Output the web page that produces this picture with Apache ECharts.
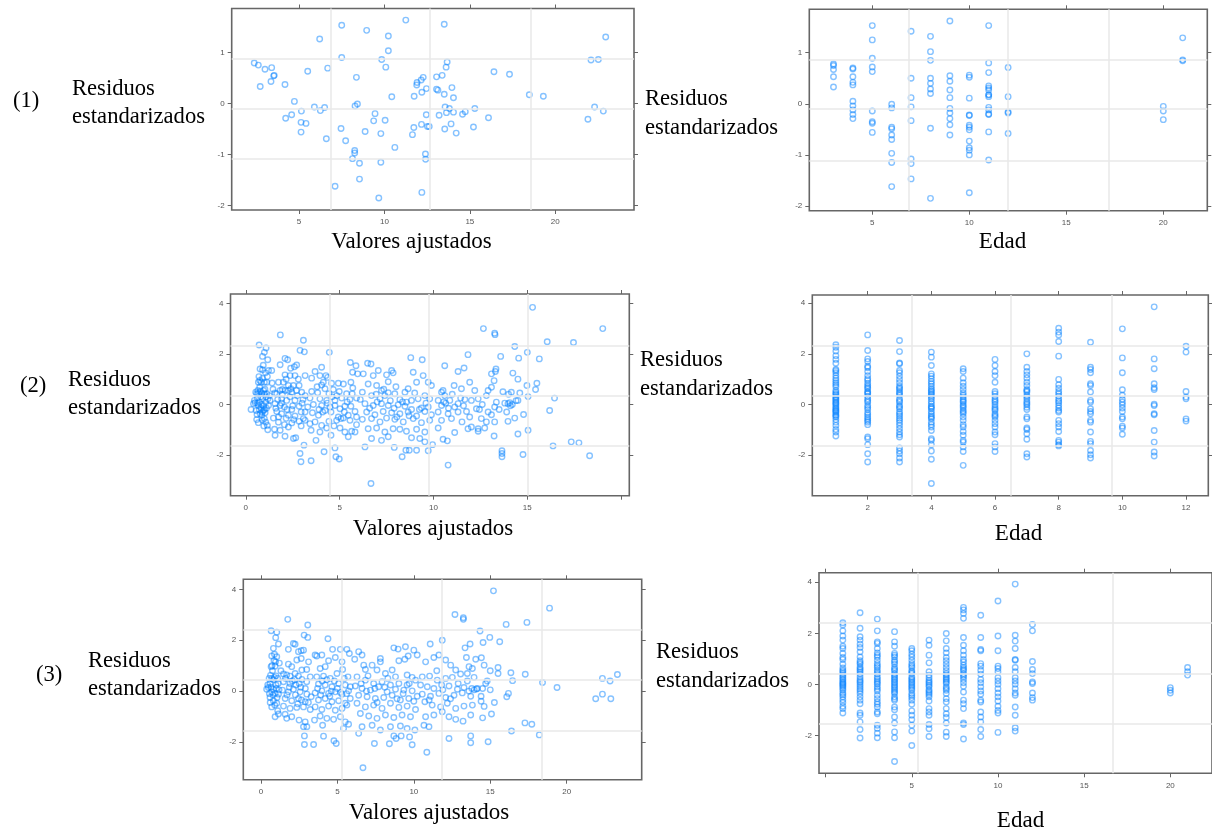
<!DOCTYPE html>
<html>
<head>
<meta charset="utf-8">
<title>Residuos estandarizados</title>
<script src="https://cdn.jsdelivr.net/npm/echarts@6/dist/echarts.min.js"></script>
<style>
  html, body { margin: 0; padding: 0; background: #fff; }
  #chart { width: 1212px; height: 833px; }
</style>
</head>
<body>
<div id="chart"></div>
<script>
// ---- Modelo (1): residuos frente a valores ajustados [ajustado, residuo] ----
const ajustados1 = [
  [2.38,0.79],[2.62,0.75],[3.01,0.67],[3.40,0.70],[3.52,0.54],[3.55,0.55],[2.73,0.33],[3.36,0.43],[4.18,0.37],[4.73,0.04],
  [4.22,-0.29],[4.57,-0.22],[5.14,-0.15],[5.12,-0.37],[5.41,-0.39],[5.12,-0.56],[5.51,0.63],[6.21,1.26],[5.90,-0.07],[6.25,-0.14],
  [6.50,-0.08],[6.68,0.69],[6.60,-0.69],[7.50,1.53],[7.50,0.90],[7.46,-0.49],[7.73,-0.73],[7.11,-1.62],[8.36,0.51],[8.28,-0.05],
  [8.42,-0.01],[8.26,-0.92],[8.26,-0.97],[8.13,-1.08],[8.54,-1.17],[8.54,-1.48],[8.96,1.43],[8.87,-0.55],[9.45,-0.20],[9.37,-0.34],
  [9.84,0.86],[10.08,0.71],[10.04,-0.33],[9.79,-0.59],[9.79,-1.15],[9.67,-1.85],[10.23,1.32],[10.23,1.03],[10.43,0.13],[10.61,-0.86],
  [11.25,1.63],[11.74,0.14],[11.72,-0.47],[11.64,-0.61],[11.89,0.36],[11.91,0.41],[12.15,0.46],[12.27,0.51],[12.19,0.22],[12.46,0.29],
  [12.17,-0.41],[12.45,-0.22],[12.52,-0.45],[12.62,-0.45],[12.40,-0.99],[12.41,-1.09],[12.19,-1.74],[13.05,0.52],[13.38,0.55],[13.05,0.28],
  [13.13,0.26],[13.50,0.18],[13.20,-0.23],[13.50,1.55],[13.67,0.81],[13.61,0.71],[13.95,0.31],[14.04,0.11],[13.55,-0.07],[13.80,-0.10],
  [13.63,-0.18],[14.04,-0.17],[13.53,-0.50],[13.90,-0.40],[14.20,-0.58],[14.57,-0.21],[14.73,-0.16],[15.29,-0.10],[15.21,-0.46],[16.09,-0.28],
  [16.41,0.62],[17.32,0.57],[18.48,0.17],[19.30,0.14],[21.91,-0.31],[22.30,-0.07],[22.81,-0.15],[22.09,0.85],[22.52,0.86],[22.95,1.30]
];

// ---- Modelo (1): residuos por edad [edad, [residuos]] ----
const edad1 = [
  [3,  [0.78,0.75,0.67,0.53,0.33]],
  [4,  [0.70,0.68,0.53,0.42,0.37,0.05,-0.04,-0.12,-0.21,-0.29]],
  [5,  [1.53,1.25,0.89,0.72,0.63,-0.14,-0.35,-0.38,-0.56]],
  [6,  [-0.01,-0.08,-0.46,-0.49,-0.61,-0.70,-0.97,-1.15,-1.62]],
  [7,  [1.42,0.50,0.12,-0.06,-0.33,-1.08,-1.17,-1.47]],
  [8,  [1.32,1.02,0.85,0.50,0.40,0.29,0.20,-0.48,-1.85]],
  [9,  [1.62,0.55,0.44,0.27,0.12,-0.09,-0.18,-0.29,-0.41,-0.61]],
  [10, [0.56,0.52,0.11,-0.22,-0.23,-0.42,-0.46,-0.51,-0.73,-0.86,-0.91,-1.00,-1.74]],
  [11, [1.53,0.80,0.61,0.35,0.31,0.27,0.18,0.17,0.14,-0.07,-0.12,-0.20,-0.21,-0.55,-1.10]],
  [12, [0.71,0.14,-0.16,-0.18,-0.58]],
  [20, [-0.05,-0.14,-0.31]],
  [21, [1.29,0.86,0.84]]
];

// ---- Modelo (2): residuos frente a valores ajustados ----
const ajustados2 = [
  [0.28,-0.20],[0.41,0.03],[0.50,0.07],[0.59,0.42],[0.67,0.42],[0.85,0.43],[0.99,0.42],[1.12,0.42],[0.71,2.35],[1.08,2.23],
  [0.99,2.06],[0.89,1.90],[1.17,1.77],[0.76,1.40],[0.89,1.37],[1.21,1.34],[0.67,0.88],[0.82,0.88],[0.99,0.88],[1.12,0.88],
  [0.89,1.03],[0.74,0.68],[0.67,-0.04],[0.82,-0.14],[0.94,-0.24],[0.76,-0.37],[0.85,-0.43],[1.03,-0.33],[0.67,-0.72],[1.06,-0.70],
  [1.15,-0.83],[1.17,-1.00],[0.99,-0.56],[0.55,-0.24],[0.46,0.16],[1.26,0.35],[1.29,0.16],[1.21,-0.04],[1.06,0.09],[0.90,0.22],
  [0.62,0.25],[0.53,0.48],[0.72,0.10],[0.80,0.30],[0.95,-0.05],[1.02,0.60],[0.60,-0.40],[0.88,-0.62],[1.10,-0.15],[0.70,1.10],
  [0.93,1.55],[1.15,1.10],[0.64,0.55],[0.78,0.52],[0.95,0.55],[1.08,0.30],[0.72,-0.20],[0.88,-0.30],[1.00,-0.20],[0.62,0.05],
  [0.84,0.00],[1.18,0.22],[0.58,-0.60],[0.96,-0.85],[0.75,0.95],[1.05,1.25],
  [1.84,2.75],[2.09,1.82],[2.23,1.77],[2.39,1.43],[2.59,1.49],[2.71,1.56],[2.89,2.14],[3.12,2.08],[3.07,2.54],[1.38,1.34],
  [1.83,1.57],[2.09,1.17],[2.36,1.14],[2.62,1.14],[1.74,0.88],[2.00,0.88],[2.27,0.75],[2.54,0.75],[2.84,0.75],[3.16,1.14],
  [1.83,0.55],[1.95,0.59],[2.09,0.55],[2.27,0.55],[2.45,0.48],[1.65,0.42],[1.91,0.22],[2.18,0.16],[2.62,0.16],[2.98,0.48],
  [3.16,0.35],[1.56,0.03],[1.83,-0.04],[2.06,-0.10],[2.45,-0.20],[2.84,-0.07],[3.16,-0.30],[1.65,-0.28],[1.91,-0.37],[2.27,-0.43],
  [2.62,-0.46],[3.07,-0.56],[1.74,-0.70],[2.06,-0.80],[2.45,-0.73],[2.84,-0.67],[3.16,-0.63],[1.53,-0.98],[1.83,-1.02],[2.09,-1.26],
  [2.54,-1.35],[2.66,-1.32],[3.10,-1.61],[2.89,-1.94],[2.94,-2.27],[2.27,-0.89],[1.47,-0.54],[1.56,-1.22],[1.45,0.60],[1.70,0.20],
  [2.35,0.30],[2.75,0.35],[3.00,0.05],[2.20,-0.20],[1.60,-0.15],[2.50,-0.05],[2.95,-0.30],[2.15,1.00],[2.80,1.00],[1.40,0.85],
  [1.55,0.45],[1.95,0.40],[2.40,0.62],[2.70,0.55],[3.05,0.20],[1.75,-0.50],[2.15,-0.55],[2.55,-0.60],[2.95,-0.85],[1.90,0.05],
  [4.45,2.06],[4.04,1.47],[3.69,1.30],[3.95,1.14],[4.27,1.14],[4.36,1.07],[3.51,1.04],[4.13,0.88],[4.04,0.77],[4.57,0.84],
  [4.93,0.84],[4.66,0.59],[4.98,0.51],[5.20,0.81],[5.57,1.66],[5.87,1.53],[5.69,1.27],[5.96,1.21],[5.60,0.88],[3.51,0.51],
  [3.83,0.46],[4.22,0.62],[4.43,0.42],[3.42,0.25],[3.95,0.22],[4.31,0.16],[4.75,0.16],[5.11,0.25],[5.37,0.42],[5.67,0.42],
  [5.90,0.25],[3.60,0.00],[4.04,-0.04],[4.49,-0.10],[4.75,-0.04],[5.02,-0.17],[5.28,-0.07],[5.60,-0.07],[5.82,-0.28],[3.55,-0.33],
  [3.87,-0.43],[4.22,-0.24],[4.54,-0.30],[4.93,-0.50],[5.20,-0.54],[5.46,-0.43],[5.90,-0.50],[3.69,-0.69],[3.42,-0.76],[4.04,-0.83],
  [4.43,-0.67],[4.84,-0.63],[5.07,-0.56],[5.55,-0.63],[3.48,-1.02],[3.95,-1.09],[4.31,-0.93],[5.02,-0.93],[5.28,-1.09],[5.64,-1.06],
  [5.90,-0.80],[3.74,-1.42],[4.17,-1.87],[4.75,-1.72],[4.80,-2.07],[4.98,-2.16],[3.48,-2.23],[4.54,-1.22],[5.46,-1.28],[5.82,-1.09],
  [3.80,0.70],[4.60,0.30],[5.40,0.10],[4.10,-0.30],[5.70,0.65],[3.30,-0.10],[4.35,0.05],[4.85,0.35],[5.25,-0.30],[3.90,-0.20],
  [4.70,-0.85],[5.55,0.20],
  [6.49,1.63],[6.67,1.60],[6.26,1.21],[6.79,1.14],[7.06,1.34],[7.59,0.90],[7.77,1.34],[7.85,1.25],[7.50,1.17],[8.79,1.85],
  [8.92,1.27],[9.40,1.77],[9.45,1.14],[9.10,0.88],[8.65,0.62],[8.48,0.48],[9.72,0.88],[9.89,0.75],[6.52,0.81],[6.97,0.75],
  [7.23,0.55],[7.59,0.46],[6.21,0.48],[6.70,0.35],[7.15,0.22],[7.41,0.35],[7.94,0.42],[8.21,0.20],[8.56,0.09],[8.83,0.16],
  [9.18,0.22],[9.54,0.35],[9.80,0.22],[6.35,0.03],[6.79,-0.04],[7.23,0.03],[7.59,-0.04],[8.12,-0.01],[8.48,-0.07],[8.83,-0.20],
  [9.36,-0.14],[9.72,-0.10],[6.44,-0.30],[6.88,-0.41],[7.32,-0.28],[7.77,-0.33],[8.21,-0.37],[8.65,-0.30],[9.10,-0.46],[9.54,-0.28],
  [9.89,-0.41],[6.21,-0.59],[6.70,-0.56],[7.15,-0.69],[7.50,-0.54],[7.94,-0.59],[8.39,-0.69],[8.92,-0.56],[9.36,-0.72],[9.80,-0.63],
  [6.52,-0.96],[6.97,-0.93],[7.41,-1.09],[7.85,-0.96],[8.21,-0.98],[8.56,-1.06],[9.10,-0.98],[9.54,-1.09],[6.35,-1.68],[6.67,-3.13],
  [7.91,-1.70],[8.33,-2.07],[8.53,-1.81],[8.71,-1.81],[9.10,-1.81],[9.72,-1.83],[9.54,-1.48],[9.95,-1.59],[6.70,-1.35],[7.23,-1.42],
  [7.59,-1.28],[8.83,-1.32],[9.27,-1.35],[6.10,0.20],[7.00,0.10],[8.00,0.70],[9.00,0.45],[6.60,-0.15],[7.70,0.15],[8.70,-0.45],
  [9.60,0.05],[7.35,0.60],[8.35,0.10],[9.25,-0.20],[7.90,-0.15],[6.95,0.40],[8.05,-0.50],
  [10.60,1.53],[11.31,1.30],[11.63,1.44],[11.84,1.97],[11.10,0.75],[11.49,0.62],[11.93,0.88],[10.43,0.48],[10.51,0.55],[10.60,0.35],
  [10.25,0.16],[10.87,0.16],[11.31,0.03],[11.67,0.20],[12.02,0.16],[12.38,0.22],[12.82,0.35],[13.09,0.68],[13.23,0.94],[13.30,1.30],
  [13.09,1.21],[12.91,0.55],[13.35,0.09],[10.43,-0.04],[11.13,-0.10],[11.76,-0.28],[12.29,-0.17],[12.91,-0.30],[13.26,-0.10],[10.25,-0.30],
  [10.78,-0.37],[11.31,-0.30],[11.93,-0.50],[12.55,-0.56],[13.09,-0.41],[10.43,-0.63],[10.96,-0.56],[11.52,-0.69],[12.02,-0.89],[12.38,-0.96],
  [12.82,-0.69],[13.26,-0.69],[10.51,-1.38],[10.74,-1.44],[11.13,-1.11],[10.78,-2.40],[13.23,-1.25],[12.38,-1.06],[11.84,-0.96],[12.73,-0.93],
  [10.25,-0.93],[11.00,0.40],[12.20,0.55],[10.80,-0.15],[12.60,0.00],[11.60,-0.05],[10.55,0.10],[10.65,0.05],[11.45,0.25],[12.45,-0.20],
  [12.66,3.00],[13.26,2.82],[13.28,2.76],[13.58,1.90],[14.33,2.29],[14.54,1.83],[13.33,1.40],[14.23,1.24],[14.50,1.00],[15.00,2.06],
  [14.98,0.75],[15.04,0.31],[13.65,-1.83],[13.65,-1.94],[13.65,-2.07],[14.50,-1.17],[14.77,-1.98],[15.04,-1.02],[13.97,-0.67],[14.33,-0.54],
  [15.28,3.84],[15.64,1.80],[15.44,0.59],[15.51,0.84],[16.06,2.48],[16.45,0.25],[16.19,-0.24],[16.37,-1.64],[17.46,2.45],[17.34,-1.48],
  [17.75,-1.52],[18.32,-2.03],[19.02,3.00],[13.80,0.05],[14.00,0.40],[14.10,-0.05],[14.40,0.15],[13.70,0.50],[14.60,0.45],[13.90,-0.30],
  [14.20,0.00],[14.80,-0.40],[13.50,-0.20],[13.97,0.03],[14.06,0.07],[14.50,0.16],[14.15,0.48]
];

// ---- Modelo (2): residuos por edad ----
const edad2 = [
  [1,  [2.36,2.26,2.11,1.93,1.78,1.63,1.38,1.33,1.25,1.14,1.04,0.95,0.86,0.78,0.70,0.55,0.48,0.42,0.37,0.30,0.26,0.20,0.16,0.09,0.05,0.00,-0.07,-0.14,-0.19,-0.24,-0.28,-0.33,-0.41,-0.45,-0.50,-0.60,-0.70,-0.83,-0.99,-1.09,-1.25]],
  [2,  [2.75,2.13,1.80,1.70,1.51,1.45,1.30,1.14,1.02,0.95,0.84,0.75,0.68,0.62,0.51,0.46,0.42,0.32,0.22,0.15,0.09,-0.04,-0.12,-0.20,-0.33,-0.41,-0.50,-0.57,-0.64,-0.70,-0.80,-1.29,-1.36,-1.59,-1.95,-2.28]],
  [3,  [2.53,2.09,1.64,1.61,1.34,1.25,1.12,0.99,0.86,0.72,0.65,0.59,0.49,0.43,0.36,0.22,0.15,0.09,-0.04,-0.10,-0.17,-0.30,-0.38,-0.46,-0.55,-0.63,-0.72,-0.83,-0.96,-1.09,-1.20,-1.29,-1.72,-1.84,-1.95,-2.12,-2.28]],
  [4,  [2.07,1.87,1.54,1.21,1.12,1.02,0.91,0.82,0.72,0.62,0.55,0.49,0.42,0.36,0.29,0.22,0.12,0.03,-0.07,-0.12,-0.17,-0.28,-0.37,-0.46,-0.52,-0.57,-0.70,-0.80,-0.89,-1.03,-1.36,-1.42,-1.59,-1.84,-2.17,-3.13]],
  [5,  [1.41,1.30,1.04,0.86,0.72,0.59,0.45,0.36,0.29,0.20,0.14,0.09,-0.01,-0.07,-0.14,-0.24,-0.30,-0.37,-0.50,-0.63,-0.80,-0.89,-1.07,-1.22,-1.42,-1.49,-1.68,-1.86,-2.41]],
  [6,  [1.78,1.54,1.30,1.14,0.88,0.51,0.42,0.32,0.22,0.15,0.09,-0.01,-0.11,-0.18,-0.24,-0.37,-0.44,-0.50,-0.63,-0.76,-0.89,-1.09,-1.20,-1.55,-1.68,-1.86]],
  [7,  [2.00,1.47,1.30,1.17,1.04,0.88,0.75,0.59,0.54,0.49,0.36,0.30,0.22,0.12,0.05,-0.01,-0.11,-0.20,-0.50,-0.57,-0.93,-0.99,-1.16,-1.38,-1.95,-2.08]],
  [8,  [3.01,2.86,2.75,2.49,1.91,0.99,0.78,0.64,0.51,0.42,0.33,0.22,0.14,0.07,-0.04,-0.14,-0.24,-0.30,-0.63,-0.76,-0.89,-1.07,-1.42,-1.49,-1.59,-1.64]],
  [9,  [2.46,1.47,1.38,1.25,0.82,0.75,0.49,0.16,0.09,-0.17,-0.28,-0.37,-0.63,-0.70,-1.09,-1.46,-1.55,-1.82,-1.99,-2.12]],
  [10, [2.99,1.84,1.25,0.58,0.36,0.20,0.09,-0.01,-0.14,-0.28,-0.50,-0.57,-0.86,-0.93,-1.18]],
  [11, [3.86,1.80,1.41,0.82,0.66,0.59,0.01,-0.04,-0.37,-0.41,-1.03,-1.49,-1.88,-2.04]],
  [12, [2.30,2.07,0.51,0.29,0.22,-0.57,-0.66]]
];

// ---- Modelo (3): residuos frente a valores ajustados ----
const ajustados3 = [
  [0.66,2.37],[1.03,2.31],[0.96,2.10],[1.14,1.85],[0.81,1.68],[0.88,1.45],[0.70,1.38],[1.03,1.35],[0.66,0.96],[0.92,0.98],
  [0.88,0.54],[0.70,0.50],[1.09,0.50],[0.53,0.50],[0.37,0.07],[0.48,0.14],[0.70,-0.03],[0.92,-0.09],[1.14,-0.12],[0.59,-0.25],
  [0.81,-0.38],[1.03,-0.48],[0.70,-0.62],[1.09,-0.77],[1.14,-0.90],[0.92,-1.01],[0.81,0.07],[0.59,0.30],[0.44,0.24],[0.98,0.24],
  [0.75,0.80],[1.20,1.10],[0.55,-0.10],[1.00,0.10],[0.85,1.20],[0.62,0.62],[0.80,0.45],[0.98,0.60],[1.12,0.30],[0.65,0.15],
  [0.78,-0.15],[1.05,-0.25],[0.90,-0.55],[0.60,-0.45],[1.18,0.05],[0.72,1.00],[0.95,1.15],
  [1.75,2.82],[3.06,2.60],[2.82,2.20],[3.06,2.11],[2.12,1.87],[2.23,1.84],[1.79,1.64],[2.45,1.55],[2.63,1.59],[2.78,1.61],
  [2.34,1.22],[2.63,1.28],[3.11,1.15],[1.79,1.06],[2.01,0.96],[2.67,0.83],[2.99,0.85],[1.47,0.67],[1.68,0.63],[1.90,0.59],
  [2.23,0.69],[2.45,0.59],[1.47,0.37],[1.90,0.30],[2.28,0.24],[2.67,0.46],[2.99,0.37],[3.22,0.56],[1.40,0.04],[1.79,-0.03],
  [2.12,0.07],[2.56,-0.03],[3.00,-0.12],[1.58,-0.29],[2.01,-0.38],[2.45,-0.29],[2.89,-0.42],[3.28,-0.22],[1.47,-0.59],[1.90,-0.68],
  [2.34,-0.64],[2.78,-0.62],[3.22,-0.72],[1.58,-0.91],[2.01,-1.01],[2.49,-1.14],[2.89,-1.21],[1.68,-1.07],[2.78,-1.40],[3.00,-1.40],
  [2.84,-1.76],[2.84,-2.10],[3.44,-2.10],[1.30,0.80],[2.20,0.45],[2.60,0.15],[1.85,0.15],[2.40,-0.50],[1.60,0.50],[2.05,0.40],
  [2.50,0.30],[2.90,0.10],[1.70,-0.15],[2.25,-0.15],[2.65,-0.35],[3.10,-0.45],
  [4.38,2.06],[3.65,1.38],[3.54,1.42],[3.98,1.42],[4.42,1.19],[4.20,0.96],[3.87,0.89],[4.68,1.64],[5.19,1.64],[4.86,1.32],
  [5.30,1.15],[5.62,1.64],[5.78,1.48],[3.65,0.56],[4.09,0.59],[4.53,0.50],[4.97,0.69],[5.34,0.85],[5.69,0.56],[3.76,0.28],
  [4.20,0.24],[4.64,0.17],[5.08,0.30],[5.51,0.24],[5.84,0.17],[3.54,-0.07],[3.98,0.01],[4.42,-0.09],[4.86,-0.03],[5.30,-0.12],
  [5.73,0.01],[3.76,-0.35],[4.20,-0.29],[4.64,-0.42],[5.08,-0.38],[5.51,-0.48],[5.84,-0.29],[3.54,-0.62],[3.98,-0.72],[4.42,-0.59],
  [4.86,-0.75],[5.30,-0.68],[5.62,-0.55],[3.87,-0.98],[4.31,-1.07],[4.75,-1.11],[5.19,-1.01],[5.51,-1.21],[4.09,-1.77],[4.77,-1.95],
  [4.92,-2.06],[4.03,-1.34],[3.50,-1.14],[5.40,-1.47],[5.73,-1.30],[4.00,0.40],[5.00,0.10],[4.50,-0.20],[5.60,-0.10],[3.70,0.10],
  [4.30,0.45],[4.80,0.40],[5.20,-0.05],[3.90,-0.15],[4.60,0.00],[5.45,0.50],
  [6.39,1.55],[6.61,1.42],[6.13,1.25],[6.72,1.02],[6.83,0.85],[7.27,1.02],[7.81,1.28],[7.81,1.15],[7.59,0.83],[8.69,1.70],
  [8.97,1.65],[9.45,1.74],[9.63,1.38],[9.41,1.25],[9.02,1.19],[10.00,1.61],[10.22,1.42],[8.58,0.83],[8.14,0.69],[8.80,0.56],
  [9.56,0.63],[9.89,0.54],[6.28,0.56],[6.83,0.43],[7.37,0.30],[7.92,0.37],[8.47,0.24],[9.02,0.30],[9.56,0.24],[10.11,0.43],
  [6.17,0.20],[6.61,0.10],[7.16,0.04],[7.70,0.17],[8.25,-0.03],[8.80,0.07],[9.34,0.04],[9.89,0.01],[6.39,-0.16],[6.94,-0.22],
  [7.48,-0.29],[8.03,-0.25],[8.58,-0.16],[9.12,-0.35],[9.67,-0.29],[10.22,-0.20],[6.28,-0.48],[6.83,-0.62],[7.37,-0.55],[7.92,-0.68],
  [8.47,-0.48],[9.02,-0.64],[9.56,-0.59],[10.11,-0.72],[6.50,-0.88],[7.05,-0.98],[7.59,-1.07],[8.14,-0.94],[8.69,-1.04],[9.23,-0.94],
  [9.78,-1.01],[6.67,-3.01],[7.42,-2.06],[8.40,-2.07],[8.69,-1.76],[8.84,-1.86],[9.17,-1.76],[9.89,-2.11],[9.72,-1.80],[10.07,-1.53],
  [6.39,-1.66],[6.61,-1.40],[7.27,-1.34],[7.81,-1.53],[8.47,-1.40],[9.12,-1.37],[9.56,-1.47],[7.00,0.60],[8.30,0.50],[9.30,-0.10],
  [7.60,-0.45],[6.90,0.00],[10.00,-0.40],[7.45,0.10],[8.10,0.15],[8.90,-0.30],[9.70,0.30],[6.55,0.30],
  [11.07,1.85],[11.86,2.00],[11.64,1.42],[10.77,1.15],[11.31,1.32],[12.08,1.22],[12.41,1.02],[12.74,0.83],[13.35,1.70],[13.44,1.32],
  [13.61,0.96],[13.83,0.89],[14.05,1.25],[10.55,0.56],[11.03,0.59],[11.53,0.43],[12.08,0.50],[12.52,0.54],[13.06,0.67],[13.50,0.69],
  [13.94,0.54],[10.44,0.24],[10.88,0.17],[11.31,0.10],[11.82,0.24],[12.30,0.20],[12.85,0.07],[13.28,0.14],[13.79,0.10],[14.16,0.10],
  [10.55,-0.12],[11.09,-0.20],[11.64,-0.09],[12.08,-0.25],[12.63,-0.16],[13.17,-0.07],[13.72,-0.20],[10.72,-0.42],[11.20,-0.55],[11.75,-0.62],
  [12.19,-0.48],[12.74,-0.68],[13.28,-0.59],[13.83,-0.55],[10.77,-1.01],[10.99,-1.40],[11.31,-0.94],[11.86,-0.81],[12.30,-1.01],[12.74,-1.11],
  [13.22,-1.18],[13.72,-0.94],[10.85,-2.40],[12.30,-1.86],[13.72,-1.76],[13.72,-2.03],[10.66,-1.34],[11.50,0.80],[12.90,0.30],[11.00,-0.35],
  [12.40,-0.30],[13.50,0.40],[13.95,0.05],[14.10,0.08],[13.60,0.00],[11.90,0.05],
  [15.21,3.94],[18.88,3.26],[12.69,3.01],[13.24,2.88],[13.24,2.82],[16.04,2.62],[17.40,2.70],[14.33,2.36],[14.97,2.11],[15.62,1.94],
  [14.53,1.91],[13.68,1.85],[14.42,1.31],[14.60,1.02],[15.00,0.80],[15.51,0.93],[15.51,0.69],[16.35,0.72],[16.46,0.41],[16.19,-0.09],
  [16.08,-0.22],[17.29,0.66],[18.42,0.34],[19.37,0.14],[14.80,0.40],[15.00,0.05],[14.86,-1.99],[15.08,-0.90],[15.27,-0.45],[14.40,-0.40],
  [14.60,-0.60],[14.50,-1.05],[16.39,-1.57],[17.27,-1.25],[17.72,-1.30],[18.21,-1.72],[14.50,0.10],[14.70,0.30],[14.40,-0.20],
  [22.34,0.50],[22.84,0.40],[23.32,0.65],[21.90,-0.30],[22.34,-0.12],[22.89,-0.30]
];

// ---- Modelo (3): residuos por edad ----
const edad3 = [
  [1,  [2.42,2.33,2.10,1.90,1.74,1.50,1.41,1.22,1.06,0.98,0.80,0.65,0.56,0.50,0.43,0.36,0.30,0.23,0.17,0.10,0.05,0.01,-0.04,-0.09,-0.15,-0.22,-0.33,-0.40,-0.48,-0.59,-0.70,-0.85,-0.94,-1.11]],
  [2,  [2.81,2.20,1.87,1.74,1.58,1.45,1.28,1.08,0.93,0.86,0.80,0.69,0.62,0.56,0.48,0.41,0.30,0.20,0.13,0.07,-0.01,-0.09,-0.17,-0.25,-0.35,-0.48,-0.61,-0.75,-1.11,-1.20,-1.46,-1.76,-2.09]],
  [3,  [2.56,2.10,1.67,1.61,1.41,1.24,1.15,1.08,0.95,0.82,0.74,0.67,0.56,0.48,0.41,0.30,0.22,0.14,0.07,0.01,-0.09,-0.17,-0.25,-0.42,-0.55,-0.68,-0.77,-0.88,-1.07,-1.14,-1.59,-1.72,-1.90,-2.08]],
  [4,  [2.07,1.67,1.50,1.22,1.15,1.08,0.95,0.88,0.80,0.67,0.60,0.54,0.43,0.36,0.30,0.23,0.17,0.10,0.04,-0.03,-0.09,-0.15,-0.22,-0.29,-0.35,-0.48,-0.55,-0.61,-0.88,-0.98,-1.27,-1.50,-1.85,-2.08,-3.01]],
  [5,  [1.41,1.32,1.19,1.08,0.95,0.82,0.74,0.67,0.54,0.48,0.43,0.30,0.23,0.17,0.10,0.04,-0.03,-0.09,-0.15,-0.22,-0.35,-0.43,-0.51,-0.61,-0.77,-1.03,-1.20,-1.37,-1.59,-1.82,-2.38]],
  [6,  [1.74,1.54,1.15,0.85,0.50,0.37,0.27,0.17,0.10,0.04,-0.03,-0.09,-0.20,-0.26,-0.33,-0.40,-0.48,-0.64,-0.94,-1.07,-1.20,-1.56,-1.73,-2.03]],
  [7,  [2.00,1.71,1.41,1.24,1.06,0.93,0.80,0.67,0.54,0.43,0.37,0.30,0.23,0.17,0.10,0.04,-0.09,-0.15,-0.22,-0.35,-0.55,-0.68,-0.94,-1.14,-1.29,-1.50,-1.86,-2.03]],
  [8,  [3.02,2.92,2.78,2.59,1.84,1.54,1.32,1.15,0.98,0.88,0.76,0.67,0.60,0.54,0.43,0.36,0.30,0.20,0.07,-0.07,-0.29,-0.61,-0.75,-0.94,-1.50,-1.56,-2.13]],
  [9,  [2.71,1.84,1.37,1.32,0.82,0.72,0.56,0.41,0.20,0.07,-0.09,-0.25,-0.38,-0.61,-0.68,-1.07,-1.27,-1.46,-1.76,-2.03]],
  [10, [3.27,1.90,1.32,0.72,0.63,0.50,0.27,0.14,0.01,-0.16,-0.33,-0.48,-0.64,-0.85,-1.01,-1.11,-1.87]],
  [11, [3.93,1.93,1.70,1.41,0.98,0.95,0.67,0.50,0.27,0.14,0.01,-0.16,-0.33,-0.42,-0.88,-1.20,-1.69,-1.82]],
  [12, [2.35,2.10,0.90,0.59,0.43,0.10,0.04,-0.33,-0.51,-0.61]],
  [20, [-0.12,-0.22,-0.33]],
  [21, [0.67,0.50,0.37]]
];

// ---- Marcas de los ejes ----
const ticksAjustados1 = [5, 10, 15, 20];
const ticksEdad1 = [5, 10, 15, 20];
const ticksAjustados2 = [0, 5, 10, 15, 20];
const etiquetasAjustados2 = [0, 5, 10, 15];
const ticksEdad2 = [2, 4, 6, 8, 10, 12];
const ticksAjustados3 = [0, 5, 10, 15, 20];
const ticksEdad3 = [0, 5, 10, 15, 20];
const etiquetasEdad3 = [5, 10, 15, 20];
const ticksResid1 = [-2, -1, 0, 1];
const ticksResid23 = [-2, 0, 2, 4];

// Lineas de referencia del fondo de cada panel
const refLineas = [
  { x: [6.87, 12.63, 18.54], y: [0.88, -0.10, -1.08] },
  { x: [6.86, 11.98, 17.2], y: [0.86, -0.10, -1.11] },
  { x: [4.45, 9.77, 15.02], y: [2.33, 0.36, -1.65] },
  { x: [3.37, 6.49, 9.66], y: [2.32, 0.35, -1.64] },
  { x: [5.26, 11.82, 18.37], y: [2.40, 0.46, -1.56] },
  { x: [5.34, 16.68], y: [2.41, 0.43, -1.53] }
];

const porEdad = (tabla) => tabla.flatMap(([e, rs]) => rs.map(r => [e, r]));

const paneles = [
  { box: [231.7, 8.5, 402.3, 201.5], x: [1.061, 24.606], y: [-2.084, 1.857], xt: ticksAjustados1, xl: ticksAjustados1, yt: ticksResid1, data: ajustados1 },
  { box: [809.3, 9.3, 398, 201.4], x: [1.753, 22.268], y: [-2.092, 1.849], xt: ticksEdad1, xl: ticksEdad1, yt: ticksResid1, data: porEdad(edad1) },
  { box: [230.5, 294, 398.8, 201.7], x: [-0.815, 20.434], y: [-3.61, 4.368], xt: ticksAjustados2, xl: etiquetasAjustados2, yt: ticksResid23, data: ajustados2 },
  { box: [812.3, 295, 396, 200.7], x: [0.26, 12.70], y: [-3.61, 4.328], xt: ticksEdad2, xl: ticksEdad2, yt: ticksResid23, data: porEdad(edad2) },
  { box: [243.3, 579.3, 398.4, 200.4], x: [-1.16, 24.91], y: [-3.481, 4.393], xt: ticksAjustados3, xl: ticksAjustados3, yt: ticksResid23, data: ajustados3 },
  { box: [819, 572.7, 399, 200.6], x: [-0.383, 22.417], y: [-3.47, 4.375], xt: ticksEdad3, xl: etiquetasEdad3, yt: ticksResid23, data: porEdad(edad3) }
];

const tickStyle = { color: '#666', width: 1 };
const labelStyle = { fontSize: 8, color: '#555', fontFamily: 'Liberation Sans, Arial, sans-serif' };

const grids = [], xAxes = [], yAxes = [], series = [];
paneles.forEach((p, i) => {
  grids.push({
    left: p.box[0], top: p.box[1], width: p.box[2], height: p.box[3],
    show: true, borderColor: '#666666', borderWidth: 1.6, backgroundColor: 'transparent'
  });
  ['bottom', 'top'].forEach((pos, k) => {
    xAxes.push({
      type: 'value', gridIndex: i, position: pos, min: p.x[0], max: p.x[1],
      axisLine: { show: false, onZero: false }, splitLine: { show: false },
      axisTick: { show: true, inside: false, length: 4, lineStyle: tickStyle, customValues: p.xt },
      axisLabel: Object.assign({ show: k === 0, margin: 8, customValues: p.xl }, labelStyle)
    });
  });
  ['left', 'right'].forEach((pos, k) => {
    yAxes.push({
      type: 'value', gridIndex: i, position: pos, min: p.y[0], max: p.y[1],
      axisLine: { show: false, onZero: false }, splitLine: { show: false },
      axisTick: { show: true, inside: false, length: 4, lineStyle: tickStyle, customValues: p.yt },
      axisLabel: Object.assign({ show: k === 0, margin: 7, customValues: p.yt }, labelStyle)
    });
  });
  const ref = refLineas[i];
  series.push({
    type: 'scatter', xAxisIndex: 2 * i, yAxisIndex: 2 * i,
    data: p.data, symbol: 'circle', symbolSize: 5.5,
    itemStyle: { color: 'rgba(255,255,255,0)', borderColor: 'rgba(0,128,255,0.6)', borderWidth: 1.4 },
    emphasis: { disabled: true }, silent: true,
    markLine: {
      silent: true, symbol: ['none', 'none'], label: { show: false }, animation: false,
      lineStyle: { color: '#e8e8e8', width: 1.5, type: 'solid' },
      emphasis: { disabled: true },
      data: ref.x.map(v => ({ xAxis: v })).concat(ref.y.map(v => ({ yAxis: v })))
    }
  });
});

// Rotulos de texto
const serif = '"Liberation Serif", "Times New Roman", serif';
function texto(t, x, y, size, align) {
  return {
    type: 'text', x: x, y: y, silent: true,
    style: { text: t, fill: '#000', font: size + 'px ' + serif,
             textAlign: align || 'left', align: align || 'left',
             textVerticalAlign: 'middle', verticalAlign: 'middle' }
  };
}
const R = 22.6;
const graphics = [
  texto('(1)', 13, 101, R), texto('Residuos', 72, 89, R), texto('estandarizados', 72, 117, R),
  texto('Residuos', 645, 99, R), texto('estandarizados', 645, 128, R),
  texto('(2)', 20, 386, R), texto('Residuos', 68, 380, R), texto('estandarizados', 68, 408, R),
  texto('Residuos', 640, 360, R), texto('estandarizados', 640, 389, R),
  texto('(3)', 36, 675, R), texto('Residuos', 88, 661, R), texto('estandarizados', 88, 689, R),
  texto('Residuos', 656, 652, R), texto('estandarizados', 656, 681, R),
  texto('Valores ajustados', 411.5, 242, 23, 'center'), texto('Edad', 1002.5, 242, 23, 'center'),
  texto('Valores ajustados', 433, 529, 23, 'center'), texto('Edad', 1018.5, 534, 23, 'center'),
  texto('Valores ajustados', 429, 813, 23, 'center'), texto('Edad', 1020.5, 821, 23, 'center')
];

const chart = echarts.init(document.getElementById('chart'), null, { renderer: 'canvas' });
chart.setOption({
  backgroundColor: '#ffffff',
  animation: false,
  grid: grids,
  xAxis: xAxes,
  yAxis: yAxes,
  series: series,
  graphic: graphics
});
</script>
</body>
</html>
